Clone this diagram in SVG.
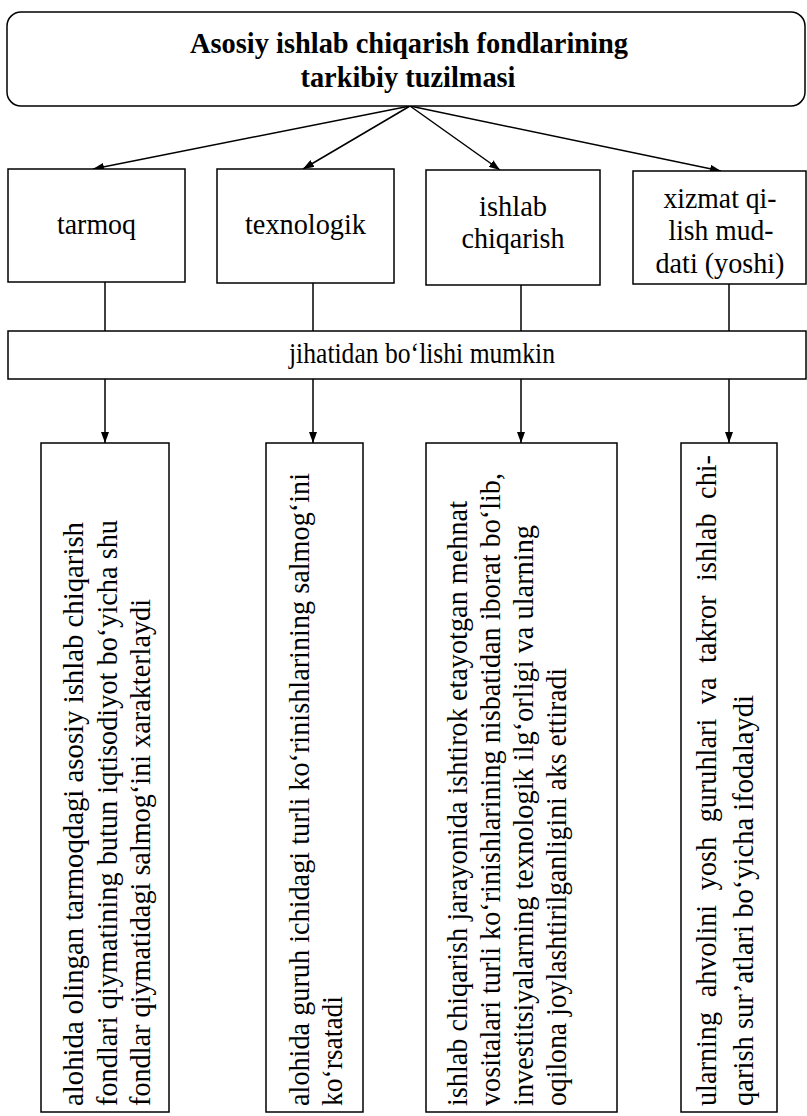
<svg xmlns="http://www.w3.org/2000/svg" width="807" height="1116" viewBox="0 0 807 1116">
<style>
.box{fill:#fff;stroke:#000;stroke-width:1.5}
.t{font-family:"Liberation Serif","Times New Roman",serif;fill:#000}
.m{font-size:29px;text-anchor:middle}
.b{font-size:30px}
.ttl{font-size:29px;font-weight:bold;text-anchor:middle}
.ln{fill:none;stroke:#000;stroke-width:1.5}
</style>
<defs>
<marker id="ah" markerUnits="userSpaceOnUse" markerWidth="11" markerHeight="8" refX="11" refY="4" orient="auto">
<path d="M0,0 L11,4 L0,8 z" fill="#000"/>
</marker>
</defs>
<rect width="807" height="1116" fill="#fff"/>

<g id="connectors">
<line class="ln" x1="410" y1="106" x2="93" y2="169" marker-end="url(#ah)"/>
<line class="ln" x1="410" y1="106" x2="303" y2="169" marker-end="url(#ah)"/>
<line class="ln" x1="410" y1="106" x2="500" y2="170" marker-end="url(#ah)"/>
<line class="ln" x1="410" y1="106" x2="721" y2="171" marker-end="url(#ah)"/>
<line class="ln" x1="105" y1="282" x2="105" y2="331"/>
<line class="ln" x1="313" y1="283" x2="313" y2="331"/>
<line class="ln" x1="521" y1="285" x2="521" y2="331"/>
<line class="ln" x1="729" y1="284" x2="729" y2="331"/>
<line class="ln" x1="105" y1="379" x2="105" y2="443" marker-end="url(#ah)"/>
<line class="ln" x1="313" y1="379" x2="313" y2="443" marker-end="url(#ah)"/>
<line class="ln" x1="521" y1="379" x2="521" y2="443" marker-end="url(#ah)"/>
<line class="ln" x1="729" y1="379" x2="729" y2="443" marker-end="url(#ah)"/>
</g>

<g id="title">
<rect class="box" x="7" y="12" width="798" height="94" rx="14" ry="14"/>
<text class="t ttl" x="409" y="53" textLength="438" lengthAdjust="spacingAndGlyphs">Asosiy ishlab chiqarish fondlarining</text>
<text class="t ttl" x="408" y="87" textLength="215" lengthAdjust="spacingAndGlyphs">tarkibiy tuzilmasi</text>
</g>

<g id="n-tarmoq">
<rect class="box" x="8" y="169" width="177" height="113"/>
<text class="t m" x="96.5" y="234" textLength="79" lengthAdjust="spacingAndGlyphs">tarmoq</text>
</g>
<g id="n-texnologik">
<rect class="box" x="217" y="169" width="177" height="114"/>
<text class="t m" x="305.5" y="234" textLength="121" lengthAdjust="spacingAndGlyphs">texnologik</text>
</g>
<g id="n-ishlab">
<rect class="box" x="426" y="170" width="174" height="115"/>
<text class="t m" x="513" y="216" textLength="68" lengthAdjust="spacingAndGlyphs">ishlab</text>
<text class="t m" x="513" y="248" textLength="103" lengthAdjust="spacingAndGlyphs">chiqarish</text>
</g>
<g id="n-xizmat">
<rect class="box" x="633" y="171" width="173" height="113"/>
<text class="t m" x="720" y="208" textLength="113" lengthAdjust="spacingAndGlyphs">xizmat qi-</text>
<text class="t m" x="721" y="240" textLength="105" lengthAdjust="spacingAndGlyphs">lish mud-</text>
<text class="t m" x="720" y="273" textLength="129" lengthAdjust="spacingAndGlyphs">dati (yoshi)</text>
</g>

<g id="bar">
<rect class="box" x="8" y="331" width="798" height="48"/>
<text class="t m" x="422" y="363" font-size="28" textLength="266" lengthAdjust="spacingAndGlyphs">jihatidan bo‘lishi mumkin</text>
</g>

<g id="d-tarmoq">
<rect class="box" x="41" y="443" width="128" height="669"/>
<text class="t b" transform="translate(83,1106) rotate(-90)" textLength="584" lengthAdjust="spacingAndGlyphs">alohida olingan tarmoqdagi asosiy ishlab chiqarish</text>
<text class="t b" transform="translate(116.5,1106) rotate(-90)" textLength="586" lengthAdjust="spacingAndGlyphs">fondlari qiymatining butun iqtisodiyot bo‘yicha shu</text>
<text class="t b" transform="translate(150,1106) rotate(-90)" textLength="507" lengthAdjust="spacingAndGlyphs">fondlar qiymatidagi salmog‘ini xarakterlaydi</text>
</g>
<g id="d-texnologik">
<rect class="box" x="266" y="443" width="97" height="669"/>
<text class="t b" transform="translate(309,1106) rotate(-90)" textLength="633" lengthAdjust="spacingAndGlyphs">alohida guruh ichidagi turli ko‘rinishlarining salmog‘ini</text>
<text class="t b" transform="translate(342,1106) rotate(-90)" textLength="110" lengthAdjust="spacingAndGlyphs">ko‘rsatadi</text>
</g>
<g id="d-ishlab">
<rect class="box" x="426" y="443" width="191" height="669"/>
<text class="t b" transform="translate(467,1106) rotate(-90)" textLength="605" lengthAdjust="spacingAndGlyphs">ishlab chiqarish jarayonida ishtirok etayotgan mehnat</text>
<text class="t b" transform="translate(500,1106) rotate(-90)" textLength="633" lengthAdjust="spacingAndGlyphs">vositalari turli ko‘rinishlarining nisbatidan iborat bo‘lib,</text>
<text class="t b" transform="translate(533,1106) rotate(-90)" textLength="581" lengthAdjust="spacingAndGlyphs">investitsiyalarning texnologik ilg‘orligi va ularning</text>
<text class="t b" transform="translate(566,1106) rotate(-90)" textLength="438" lengthAdjust="spacingAndGlyphs">oqilona joylashtirilganligini aks ettiradi</text>
</g>
<g id="d-xizmat">
<rect class="box" x="681" y="443" width="96" height="669"/>
<text class="t b" transform="translate(716,1106) rotate(-90)" word-spacing="8" textLength="651" lengthAdjust="spacingAndGlyphs">ularning ahvolini yosh guruhlari va takror ishlab chi-</text>
<text class="t b" transform="translate(753,1106) rotate(-90)" textLength="411" lengthAdjust="spacingAndGlyphs">qarish sur’atlari bo‘yicha ifodalaydi</text>
</g>
</svg>
